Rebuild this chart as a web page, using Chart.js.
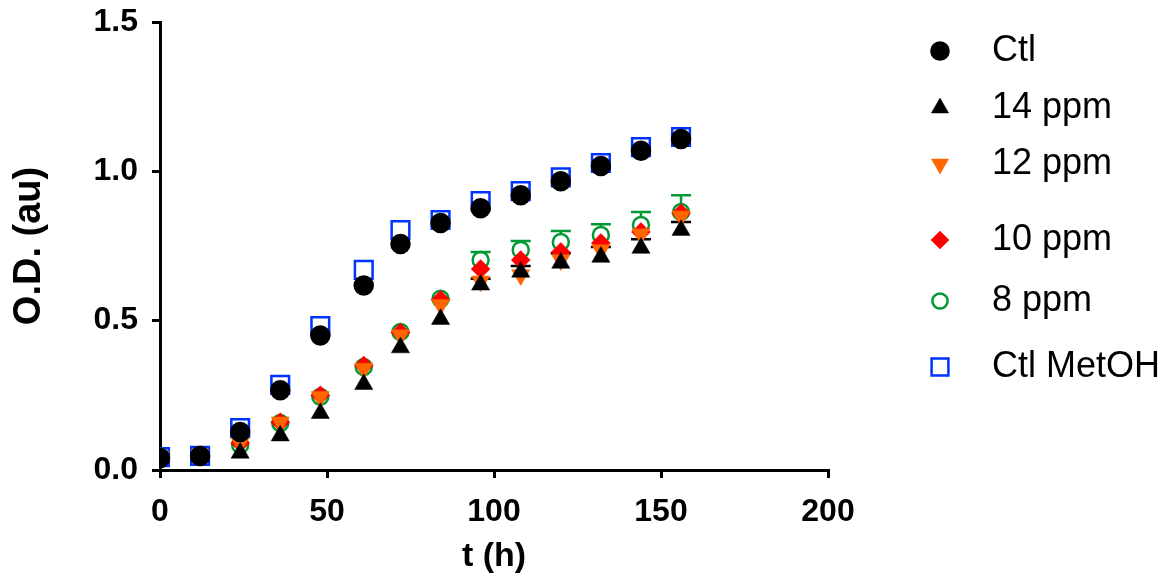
<!DOCTYPE html>
<html lang="en">
<head>
<meta charset="UTF-8">
<title>O.D. growth curves</title>
<script src="https://cdn.jsdelivr.net/npm/chart.js"></script>
<style>
body {
    margin: 0;
    background-color: #fff;
}
.chartBox {
    width: 1162px;
    height: 577px;
}
</style>
</head>
<body>
<div class="chartBox"><canvas id="odChart"></canvas></div>
<script>
// sampling times (h)
const hours = [0, 12, 24, 36, 48, 61, 72, 84, 96, 108, 120, 132, 144, 156];

// O.D. (au) per condition
const ctl      = [0.040, 0.047, 0.127, 0.267, 0.450, 0.618, 0.757, 0.827, 0.876, 0.920, 0.967, 1.018, 1.069, 1.108];
const ppm14    = [0.040, 0.045, 0.057, 0.115, 0.190, 0.287, 0.410, 0.505, 0.620, 0.663, 0.693, 0.713, 0.743, 0.803];
const ppm12    = [0.045, 0.050, 0.090, 0.160, 0.245, 0.340, 0.452, 0.553, 0.632, 0.653, 0.703, 0.737, 0.790, 0.850];
const ppm10    = [0.045, 0.050, 0.090, 0.160, 0.250, 0.350, 0.460, 0.570, 0.673, 0.703, 0.730, 0.760, 0.797, 0.860];
const ppm8     = [0.045, 0.048, 0.084, 0.157, 0.245, 0.345, 0.462, 0.573, 0.703, 0.737, 0.763, 0.787, 0.820, 0.864];
const ctlMetOH = [0.043, 0.047, 0.140, 0.285, 0.482, 0.670, 0.803, 0.837, 0.900, 0.934, 0.980, 1.028, 1.081, 1.115];

// upper error bars (only these two are visible above the markers)
const err8  = [0, 0, 0, 0, 0, 0, 0, 0, 0.027, 0.030, 0.037, 0.036, 0.044, 0.056];
const err14 = [0, 0, 0, 0, 0, 0, 0, 0, 0.020, 0.020, 0.033, 0.034, 0.030, 0.027];

const yTicks = [0, 0.5, 1.0, 1.5];
const xTicks = [0, 50, 100, 150, 200];

const FONT = "'Liberation Sans', Arial, Helvetica, sans-serif";

function pts(values) {
    return hours.map((h, i) => ({ x: h, y: values[i] }));
}

// error bars drawn behind the markers, upward only
const errorBarPlugin = {
    id: 'errorBars',
    beforeDatasetsDraw(chart) {
        const ctx = chart.ctx;
        const xs = chart.scales.x, ys = chart.scales.y;
        chart.data.datasets.forEach(ds => {
            if (!ds.errors) return;
            ctx.save();
            ctx.strokeStyle = ds.borderColor;
            ctx.lineWidth = 2.5;
            ds.data.forEach((p, i) => {
                const e = ds.errors[i];
                if (!e) return;
                const px = xs.getPixelForValue(p.x);
                const py = ys.getPixelForValue(p.y);
                const top = ys.getPixelForValue(p.y + e);
                ctx.beginPath();
                ctx.moveTo(px, py - ds.pointRadius);
                ctx.lineTo(px, top);
                ctx.moveTo(px - 10, top);
                ctx.lineTo(px + 10, top);
                ctx.stroke();
            });
            ctx.restore();
        });
    }
};

// legend on the right with GraphPad-like spacing
const sideLegendPlugin = {
    id: 'sideLegend',
    afterDraw(chart, args, opts) {
        const ctx = chart.ctx;
        ctx.save();
        chart.data.datasets.forEach((ds, i) => {
            const y = opts.rows[i];
            ctx.fillStyle = ds.backgroundColor;
            ctx.strokeStyle = ds.borderColor;
            ctx.lineWidth = ds.borderWidth;
            Chart.helpers.drawPoint(ctx, {
                pointStyle: ds.pointStyle,
                rotation: ds.pointRotation || 0,
                radius: ds.pointRadius * 0.95,
                borderWidth: ds.borderWidth
            }, opts.markerX, y);
            ctx.fillStyle = '#000';
            ctx.font = '36px ' + FONT;
            ctx.textAlign = 'left';
            ctx.textBaseline = 'middle';
            ctx.fillText(ds.label, opts.textX, y);
        });
        ctx.restore();
    }
};

function series(label, values, style, fill, border, radius, extra) {
    return Object.assign({
        label: label,
        data: pts(values),
        pointStyle: style,
        backgroundColor: fill,
        borderColor: border,
        pointBackgroundColor: fill,
        pointBorderColor: border,
        borderWidth: 2.5,
        pointBorderWidth: 2.5,
        pointRadius: radius,
        pointHoverRadius: radius,
        showLine: false
    }, extra || {});
}

const datasets = [
    series('Ctl', ctl, 'circle', '#000000', '#000000', 9),
    series('14 ppm', ppm14, 'triangle', '#000000', '#000000', 10.5, { errors: err14, borderWidth: 0.5, pointBorderWidth: 0.5 }),
    series('12 ppm', ppm12, 'triangle', '#ff6600', '#ff6600', 10.5, { pointRotation: 180, rotation: 180, borderWidth: 0.5, pointBorderWidth: 0.5 }),
    series('10 ppm', ppm10, 'rectRot', '#ff0000', '#ff0000', 9.5, { borderWidth: 0.5, pointBorderWidth: 0.5 }),
    series('8 ppm', ppm8, 'circle', 'rgba(0,0,0,0)', '#009933', 8, { errors: err8 }),
    series('Ctl MetOH', ctlMetOH, 'rect', 'rgba(0,0,0,0)', '#0033ff', 12.5)
];

new Chart(document.getElementById('odChart'), {
    type: 'scatter',
    data: { datasets: datasets },
    options: {
        responsive: true,
        maintainAspectRatio: false,
        animation: false,
        layout: { padding: { top: 22, right: 334, left: 0, bottom: 0 } },
        plugins: {
            legend: { display: false },
            tooltip: { enabled: false },
            sideLegend: {
                markerX: 940,
                textX: 992,
                rows: [51, 108, 164, 240, 301, 367]
            }
        },
        scales: {
            x: {
                type: 'linear',
                min: 0,
                max: 200,
                afterFit: s => { s.height = 107; },
                afterBuildTicks: s => { s.ticks = xTicks.map(v => ({ value: v })); },
                border: { color: '#000', width: 3 },
                grid: { drawOnChartArea: false, color: '#000', lineWidth: 3, tickLength: 8 },
                ticks: {
                    color: '#000',
                    padding: 15,
                    font: { family: FONT, size: 32, weight: 'bold' }
                },
                title: {
                    display: true,
                    text: 't (h)',
                    color: '#000',
                    padding: { top: 0, bottom: 0 },
                    font: { family: FONT, size: 34, weight: 'bold' }
                }
            },
            y: {
                min: 0,
                max: 1.5,
                afterFit: s => {
                    s.width = 160;
                    s.paddingTop = 0;
                    s.paddingBottom = 0;
                },
                afterBuildTicks: s => { s.ticks = yTicks.map(v => ({ value: v })); },
                border: { color: '#000', width: 3 },
                grid: { drawOnChartArea: false, color: '#000', lineWidth: 3, tickLength: 8 },
                ticks: {
                    color: '#000',
                    padding: 14,
                    callback: v => v.toFixed(1),
                    font: { family: FONT, size: 32, weight: 'bold' }
                },
                title: {
                    display: true,
                    text: 'O.D. (au)',
                    color: '#000',
                    padding: { top: 7, bottom: 0 },
                    font: { family: FONT, size: 38, weight: 'bold' }
                }
            }
        }
    },
    plugins: [errorBarPlugin, sideLegendPlugin]
});
</script>
</body>
</html>
